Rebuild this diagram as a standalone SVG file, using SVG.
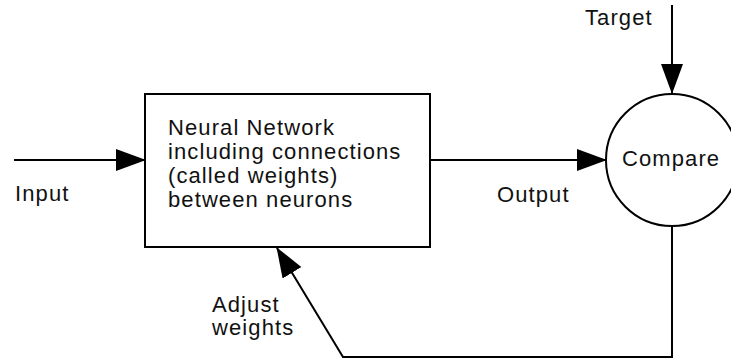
<svg xmlns="http://www.w3.org/2000/svg" width="731" height="362" viewBox="0 0 731 362">
<style>
.ln{fill:none;stroke:#000;stroke-width:2}
.sh{fill:#fff;stroke:#000;stroke-width:2}
text{font-family:"Liberation Sans",Arial,sans-serif;font-size:22px;letter-spacing:1.1px;fill:#111}
</style>
<defs>
<marker id="ah" viewBox="0 0 30 22" refX="29" refY="11" markerWidth="30" markerHeight="22" markerUnits="userSpaceOnUse" orient="auto">
<path d="M0,0 L30,11 L0,22 z" fill="#000"/>
</marker>
</defs>
<g id="connectors">
<path class="ln" d="M14,160 L145,160" marker-end="url(#ah)"/>
<path class="ln" d="M430,160 L606,160" marker-end="url(#ah)"/>
<path class="ln" d="M672,5 L672,93" marker-end="url(#ah)"/>
<path class="ln" d="M672,226 L672,357 L343,357 L277,248" marker-end="url(#ah)"/>
</g>
<g id="nn">
<rect class="sh" x="145" y="94" width="285" height="153"/>
<text x="168" y="135">Neural Network</text>
<text x="168" y="159">including connections</text>
<text x="168" y="183">(called weights)</text>
<text x="168" y="207">between neurons</text>
</g>
<g id="compare">
<circle class="sh" cx="672" cy="160" r="66"/>
<text x="622" y="166">Compare</text>
</g>
<g id="labels">
<text x="15" y="201">Input</text>
<text x="497" y="202">Output</text>
<text x="585" y="25">Target</text>
<text x="212" y="312">Adjust</text>
<text x="212" y="335">weights</text>
</g>
</svg>
